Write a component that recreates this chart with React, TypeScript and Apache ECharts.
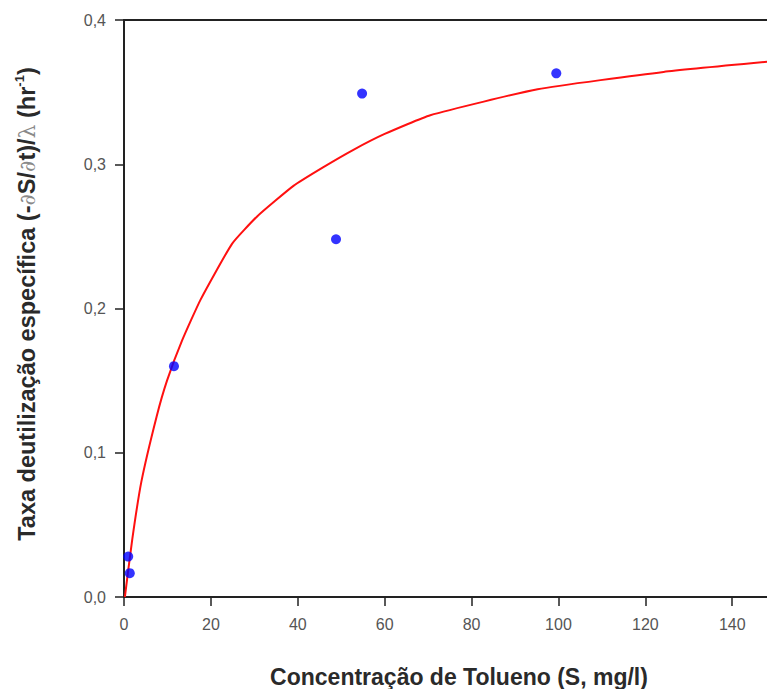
import React, { useEffect, useRef } from "react";
import * as echarts from "echarts";

const obsS = [0.97, 1.33, 11.5, 48.8, 54.8, 99.5];
const obsRate = [0.028, 0.0165, 0.16, 0.248, 0.349, 0.363];

const fitS = [0.2, 1.9, 4.0, 7.5, 9.9, 13.4, 17.6, 24.9, 30.7, 39.0, 45.9, 52.8, 60.0, 70.5, 95.2, 124.2, 148];
const fitRate = [0.0, 0.04, 0.08, 0.125, 0.15, 0.178, 0.206, 0.245, 0.264, 0.285, 0.298, 0.31, 0.321, 0.334, 0.352, 0.364, 0.371];

const xTicks = [0, 20, 40, 60, 80, 100, 120, 140];
const yTicks = [0, 0.1, 0.2, 0.3, 0.4];

const FONT = '"Liberation Sans", Arial, Helvetica, sans-serif';

export default function App() {
  const ref = useRef<HTMLDivElement>(null);
  useEffect(() => {
    if (!ref.current) return;
    const chart = echarts.init(ref.current, null, { renderer: "svg" });
    const axisLine = { show: true, lineStyle: { color: "#222", width: 2 } };
    chart.setOption({
      animation: false,
      backgroundColor: "#fff",
      grid: { left: 124, top: 20, right: 0, bottom: 92, containLabel: false },
      xAxis: [
        {
          type: "value",
          min: 0,
          max: 148,
          interval: 20,
          axisLine: { ...axisLine, onZero: false },
          axisTick: { show: true, length: 9, lineStyle: { color: "#222", width: 1.5 } },
          axisLabel: {
            margin: 19,
            color: "#555",
            fontSize: 16,
            fontFamily: FONT,
            showMaxLabel: false,
            formatter: (v: number) => (xTicks.includes(v) ? String(v) : ""),
          },
          splitLine: { show: false },
        },
        {
          type: "value",
          position: "top",
          min: 0,
          max: 148,
          interval: 20,
          axisLine: { ...axisLine, onZero: false },
          axisTick: { show: false },
          axisLabel: { show: false },
          splitLine: { show: false },
        },
      ],
      yAxis: {
        type: "value",
        min: 0,
        max: 0.4,
        interval: 0.1,
        axisLine: { ...axisLine, onZero: false },
        axisTick: { show: true, length: 9, lineStyle: { color: "#222", width: 1.5 } },
        axisLabel: {
          margin: 18,
          color: "#555",
          fontSize: 16,
          fontFamily: FONT,
          formatter: (v: number) => {
            const t = yTicks.find((k) => Math.abs(k - v) < 1e-9);
            return t === undefined ? "" : t.toFixed(1).replace(".", ",");
          },
        },
        splitLine: { show: false },
      },
      series: [
        {
          type: "line",
          data: fitS.map((s, i) => [s, fitRate[i]]),
          showSymbol: false,
          symbol: "none",
          smooth: 0.15,
          lineStyle: { color: "#ff1010", width: 2 },
          z: 2,
        },
        {
          type: "scatter",
          data: obsS.map((s, i) => [s, obsRate[i]]),
          symbolSize: 10,
          itemStyle: { color: "#0000ff" },
          z: 3,
        },
      ],
      graphic: [
        {
          type: "text",
          x: 459,
          y: 677,
          style: {
            text: "Concentração de Tolueno (S, mg/l)",
            font: `bold 23px ${FONT}`,
            fill: "#2a2a2a",
            align: "center",
            verticalAlign: "middle",
          },
        },
        {
          type: "text",
          x: 27,
          y: 304,
          rotation: Math.PI / 2,
          style: {
            text:
              "{b|Taxa deutilização específica (-}{g|∂}{b|S/}{g|∂}{b|t)/}{g|λ}{b| (hr}{sup|-1}{b|)}",
            align: "center",
            verticalAlign: "middle",
            rich: {
              b: { fontFamily: FONT, fontWeight: "bold", fontSize: 23.5, fill: "#2a2a2a", lineHeight: 28 },
              g: { fontFamily: '"DejaVu Serif", serif', fontWeight: "normal", fontSize: 22, fill: "#8a8a8a", lineHeight: 28 },
              sup: { fontFamily: FONT, fontWeight: "bold", fontSize: 13, fill: "#2a2a2a", verticalAlign: "top", lineHeight: 28, padding: [0, 0, 10, 0] },
            },
          },
        },
      ],
    });
    return () => chart.dispose();
  }, []);
  return (
    <div
      ref={ref}
      style={{ position: "fixed", left: 0, top: 0, width: 767, height: 689 }}
    />
  );
}
